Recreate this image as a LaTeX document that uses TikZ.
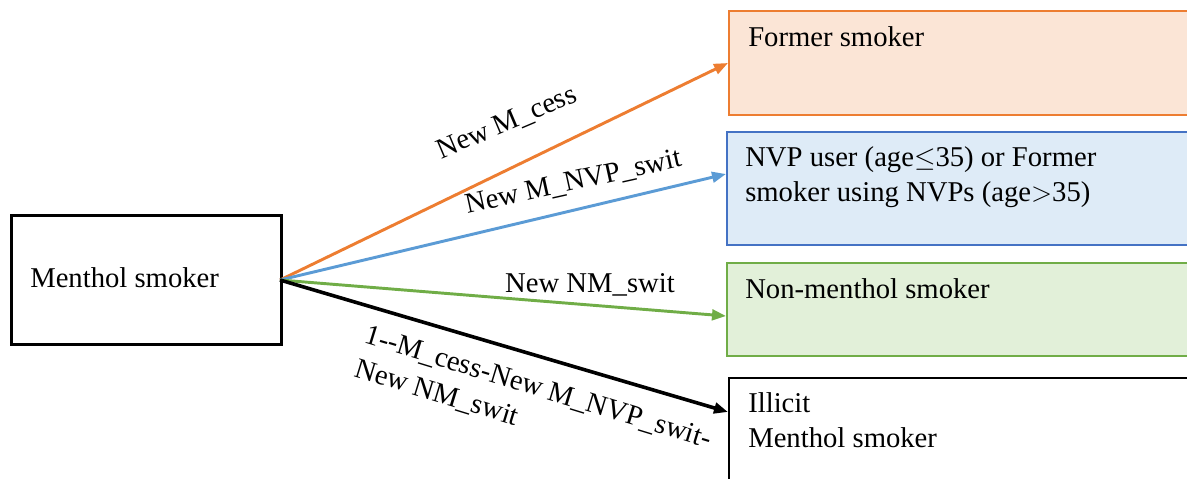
\documentclass[tikz,border=0pt]{standalone}
\usepackage{fontspec}
\setmainfont{Liberation Serif}
\usetikzlibrary{arrows.meta}
\definecolor{orgline}{HTML}{ED7D31}
\definecolor{orgfill}{HTML}{FBE5D6}
\definecolor{bluline}{HTML}{4472C4}
\definecolor{bluarrow}{HTML}{5B9BD5}
\definecolor{blufill}{HTML}{DEEBF7}
\definecolor{grnline}{HTML}{70AD47}
\definecolor{grnfill}{HTML}{E2F0D9}
\tikzset{
  box/.style={draw, rectangle, line width=1.5pt, anchor=north west, inner sep=0pt},
  txt/.style={inner sep=0pt, anchor=base west, align=left, font=\fontsize{21.5}{26}\selectfont},
  lbl/.style={inner sep=0pt, anchor=base, font=\fontsize{21.5}{26}\selectfont},
  arr/.style={line width=2.2pt, -{Triangle[length=10.5pt,width=8pt]}, shorten >=0pt}
}
\begin{document}
\begin{tikzpicture}[x=0.75pt,y=-0.75pt]
\useasboundingbox (0,0) rectangle (1187,478);
% boxes
\node[box, draw=black, line width=1.9pt, minimum width=202.5pt, minimum height=96.75pt] (menthol) at (10,214) {};
\node[box, draw=orgline, fill=orgfill, minimum width=354pt, minimum height=78pt] (former) at (728,10) {};
\node[box, draw=bluline, fill=blufill, minimum width=355.5pt, minimum height=84.75pt] (nvp) at (726,131) {};
\node[box, draw=grnline, fill=grnfill, minimum width=355.5pt, minimum height=69.75pt] (nonm) at (726,262) {};
\node[box, draw=black, minimum width=354pt, minimum height=90pt] (illicit) at (728,377) {};
% box texts (base = last line)
\node[txt] (tmenthol) at (30,287) {Menthol smoker};
\node[txt] (tformer) at (748,47) {Former smoker};
\node[txt] (tnvp) at (745,201) {NVP user (age\(\leq\)35) or Former\\smoker using NVPs (age\(>\)35)};
\node[txt] (tnonm) at (745,298) {Non-menthol smoker};
\node[txt] (tillicit) at (748,447) {Illicit\\Menthol smoker};
% arrows
\coordinate (src) at (280,280);
\coordinate (eformer) at (728,63);
\coordinate (envp) at (726,174);
\coordinate (enonm) at (726,316);
\coordinate (eillicit) at (728,412);
\draw[arr, orgline] (src) -- (eformer);
\draw[arr, bluarrow] (src) -- (envp);
\draw[arr, grnline] (src) -- (enonm);
\draw[arr, black, line width=2.7pt] (src) -- (eillicit);
% labels
\node[lbl, rotate=23] (lcess) at (510,130) {New M\_cess};
\node[lbl, rotate=12.5] (lnvp) at (575,190) {New M\_NVP\_swit};
\node[lbl] (lnm) at (590,292) {New NM\_swit};
\node[txt, rotate=-17] (lrest) at (353,376) {1-{}-M\_cess-New M\_NVP\_swit-\\New NM\_swit};
\end{tikzpicture}
\end{document}
